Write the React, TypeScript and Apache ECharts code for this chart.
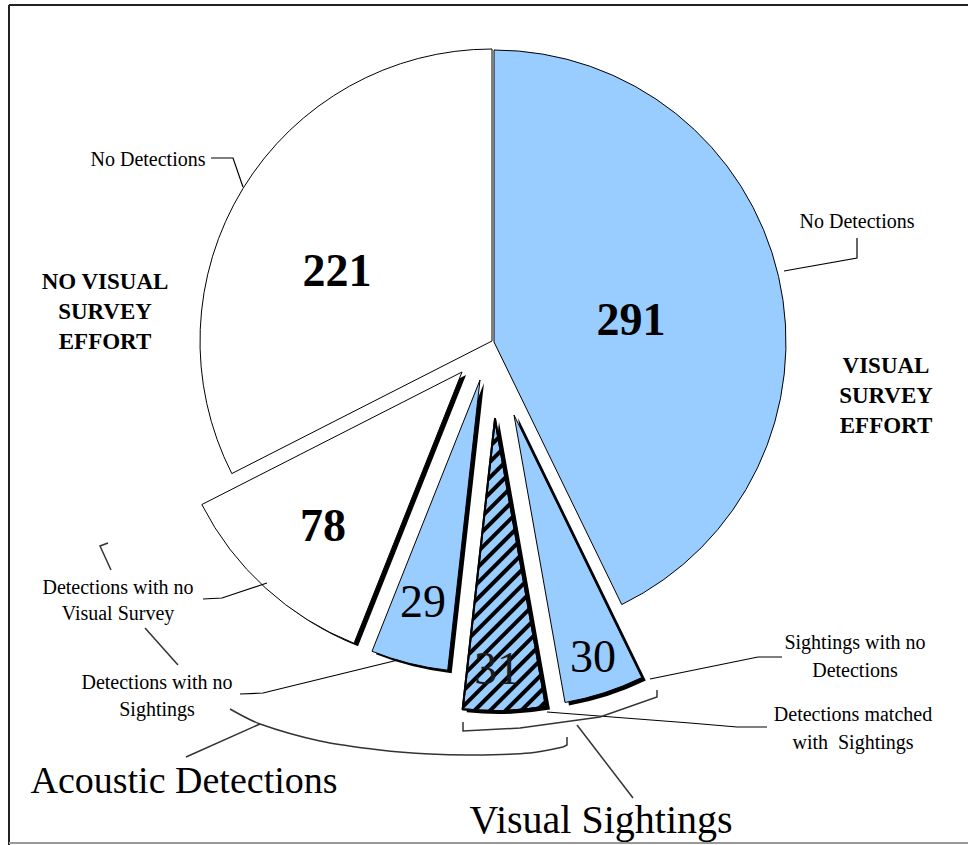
import React, { useEffect, useRef } from 'react';
import * as echarts from 'echarts';

// ---- data ----
const categories = [
  'Visual survey effort: No Detections',
  'Sightings with no Detections',
  'Detections matched with Sightings',
  'Detections with no Sightings',
  'Detections with no Visual Survey',
  'No visual survey effort: No Detections',
];
const values = [291, 30, 31, 29, 78, 221];
const valueLabels = ['291', '30', '31', '29', '78', '221'];

// ---- layout / style (not data) ----
const RADIUS = 292;
const sliceCenters: number[][] = [
  [494, 342],
  [514, 415],
  [495, 419],
  [480, 380],
  [462, 372],
  [492, 341],
];
const sliceFill = ['#99CCFF', '#99CCFF', '#99CCFF', '#99CCFF', '#FFFFFF', '#FFFFFF'];
const sliceShadow = [false, true, true, true, true, false];
const sliceBorder = [1, 1, 2, 1, 1, 1];
const labelPos: number[][] = [
  [631, 319],
  [593, 656],
  [497, 668],
  [423, 601],
  [323, 525],
  [337, 270],
];
const labelBold = [true, false, false, false, true, true];

const SERIF = '"Liberation Serif", "Times New Roman", serif';

function sliceSeries(idx: number, center: number[], color: string, borderW: number, z: number, decal?: any) {
  return {
    type: 'pie',
    radius: RADIUS,
    center,
    startAngle: 90,
    clockwise: true,
    z,
    silent: true,
    avoidLabelOverlap: false,
    label: { show: false },
    labelLine: { show: false },
    emphasis: { disabled: true },
    data: values.map((v, i) => ({
      name: categories[i],
      value: v,
      itemStyle:
        i === idx
          ? { color, borderColor: '#000', borderWidth: borderW, decal: decal }
          : { color: 'rgba(0,0,0,0)', borderWidth: 0, borderColor: 'rgba(0,0,0,0)' },
    })),
  };
}

function line(points: number[][], stroke = '#000', lineWidth = 1.2, smooth = 0) {
  return {
    type: 'polyline',
    z: 100,
    shape: { points, smooth },
    style: { stroke, lineWidth, fill: null },
  };
}

function text(t: string, x: number, y: number, font: string, lineHeight?: number, fill = '#000') {
  return {
    type: 'text',
    z: 101,
    x,
    y,
    style: {
      text: t,
      font,
      fill,
      align: 'center',
      verticalAlign: 'middle',
      lineHeight,
    },
  };
}

export default function App() {
  const ref = useRef<HTMLDivElement>(null);
  useEffect(() => {
    if (!ref.current) return;
    const chart = echarts.init(ref.current, null, { renderer: 'svg' });

    const hatch = {
      symbol: 'rect',
      symbolSize: 1,
      dashArrayX: [1, 0],
      dashArrayY: [4, 7],
      rotation: -Math.PI / 4,
      color: '#000',
    };

    const series: any[] = [];
    values.forEach((_, i) => {
      if (sliceShadow[i]) {
        const c = sliceCenters[i];
        series.push(sliceSeries(i, [c[0] + 4, c[1] + 3], '#000', 0, 1));
      }
    });
    values.forEach((_, i) => {
      series.push(sliceSeries(i, sliceCenters[i], sliceFill[i], sliceBorder[i], 2, i === 2 ? hatch : undefined));
    });

    const graphics: any[] = [
      // frame
      { type: 'line', z: 100, shape: { x1: 9, y1: 5, x2: 9, y2: 845 }, style: { stroke: '#222', lineWidth: 2 } },
      { type: 'line', z: 100, shape: { x1: 9, y1: 5, x2: 968, y2: 5 }, style: { stroke: '#222', lineWidth: 2 } },
      { type: 'line', z: 100, shape: { x1: 9, y1: 843, x2: 968, y2: 843 }, style: { stroke: '#999', lineWidth: 2 } },
      // leaders
      line([[211, 158], [233, 158], [243, 187]]),
      line([[857, 238], [857, 258], [784, 271]]),
      line([[203, 599], [222, 598], [267, 583]]),
      line([[240, 694], [263, 693], [398, 660]]),
      line([[782, 657], [758, 657], [650, 679]]),
      line([[767, 727], [737, 727], [690, 723], [547, 712]]),
      // acoustic bracket
      line([[108, 543], [100, 546], [111, 570]], '#333', 1.5),
      line([[145, 628], [178, 665]], '#333', 1.5),
      line([[230, 709], [260, 724], [320, 741], [380, 750], [430, 754], [473, 755], [530, 753], [563, 747]], '#333', 1.5, 0.3),
      line([[563, 747], [567, 745], [567, 737]], '#333', 1.5),
      line([[260, 724], [186, 757]], '#333', 1.5),
      // visual bracket
      line([[463, 722], [463, 731], [520, 728], [600, 717], [657, 697], [657, 690]], '#333', 1.5),
      line([[577, 725], [633, 798]], '#333', 1.5),
      // texts
      text('No Detections', 148, 159, `20px ${SERIF}`),
      text('No Detections', 857, 221, `20px ${SERIF}`),
      text('NO VISUAL\nSURVEY\nEFFORT', 105, 311, `bold 23px ${SERIF}`, 30),
      text('VISUAL\nSURVEY\nEFFORT', 886, 395, `bold 23px ${SERIF}`, 30),
      text('Detections with no\nVisual Survey', 118, 600, `20px ${SERIF}`, 26),
      text('Detections with no\nSightings', 157, 695, `20px ${SERIF}`, 27),
      text('Sightings with no\nDetections', 855, 656, `20px ${SERIF}`, 28),
      text('Detections matched\nwith  Sightings', 853, 728, `20px ${SERIF}`, 28),
      text('Acoustic Detections', 184, 780, `38px ${SERIF}`),
      text('Visual Sightings', 601, 819, `40px ${SERIF}`),
    ];
    valueLabels.forEach((t, i) => {
      graphics.push(
        text(t, labelPos[i][0], labelPos[i][1], `${labelBold[i] ? 'bold ' : ''}46px ${SERIF}`, undefined, i === 2 ? '#1a1a1a' : '#000')
      );
    });

    chart.setOption({
      animation: false,
      backgroundColor: '#fff',
      series,
      graphic: { elements: graphics },
    });
    return () => chart.dispose();
  }, []);
  return (
    <div
      ref={ref}
      style={{ position: 'absolute', left: 0, top: 0, width: 968, height: 845 }}
    />
  );
}
